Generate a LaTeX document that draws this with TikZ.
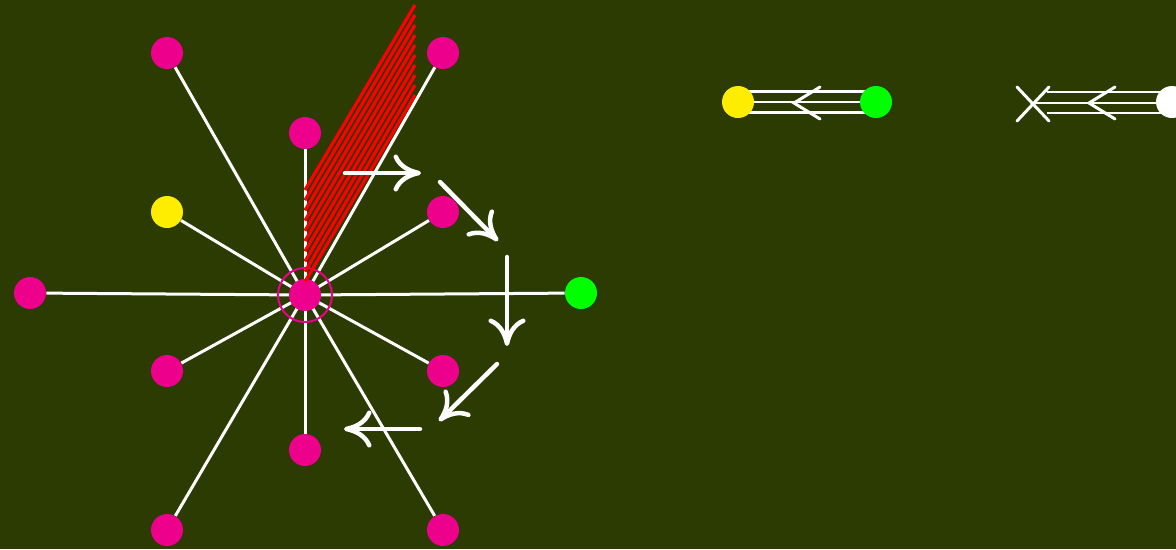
\documentclass[tikz,border=0pt]{standalone}
\usetikzlibrary{arrows.meta}
\definecolor{boardbg}{RGB}{44,59,2}
\definecolor{dotpink}{RGB}{236,0,140}
\definecolor{dotyellow}{RGB}{255,237,0}
\definecolor{dotgreen}{RGB}{0,255,0}
\definecolor{hatchred}{RGB}{255,0,0}
\pgfdeclarelayer{back}
\pgfdeclarelayer{wires}
\pgfsetlayers{back,wires,main}

\begin{document}
\begin{tikzpicture}[x=0.02cm, y=-0.02cm,
  disc/.style={circle, fill=#1, inner sep=0pt, minimum size=0.64cm},
  spoke/.style={white, line width=0.06cm},
  rail/.style={white, line width=0.05cm},
  turn/.style={white, line width=0.09cm, line cap=round, -{Computer Modern Rightarrow[length=0.55cm, width=0.74cm]}},
  barb/.style={white, line width=0.06cm, line cap=round},
  hatch/.style={hatchred, line width=0.065cm}
]
\useasboundingbox (0,0) rectangle (1176,549);
\begin{pgfonlayer}{back}
  \fill[boardbg] (0,0) rectangle (1176,549);
\end{pgfonlayer}

% ================= STAR =================
\node[disc=dotpink] (ctr) at (305,295) {};
\node[circle, draw=dotpink, line width=0.04cm, inner sep=0pt, minimum size=1.08cm] (ring) at (ctr) {};

\foreach \n/\x/\y/\c in {n1/167/53/dotpink, n2/443/53/dotpink, n3/305/133/dotpink,
    n4/167/212/dotyellow, n5/443/212/dotpink, n6/30/293/dotpink, n7/581/293/dotgreen,
    n8/167/371/dotpink, n9/443/371/dotpink, n10/305/450/dotpink,
    n11/167/530/dotpink, n12/443/530/dotpink}{
  \node[disc=\c] (\n) at (\x,\y) {};
}
\begin{pgfonlayer}{wires}
  \foreach \n in {n1,n2,n3,n4,n5,n6,n7,n8,n9,n10,n11,n12}
    \draw[spoke] (ctr.center) -- (\n);
\end{pgfonlayer}

% --- hatched wedge ---
\foreach \k in {0,...,9}
  \draw[hatch] (305,190+10.2*\k) -- (415,5+10*\k);

% --- turning arrows ---
\coordinate (t1) at (345,173);
\coordinate (t2) at (421,173);
\coordinate (t3) at (440,182);
\coordinate (t4) at (498,241);
\coordinate (t5) at (507,257);
\coordinate (t6) at (507,346);
\coordinate (t7) at (497,364);
\coordinate (t8) at (439,421);
\coordinate (t9) at (420,429);
\coordinate (t10) at (344,429);
\draw[turn] (t1) -- (t2);
\draw[turn] (t3) -- (t4);
\draw[turn] (t5) -- (t6);
\draw[turn] (t7) -- (t8);
\draw[turn] (t9) -- (t10);

% ================= RIGHT: two links =================
\node[disc=dotyellow] (ya) at (738,102) {};
\node[disc=dotgreen] (gb) at (876,102) {};
\node[disc=white] (wc) at (1172,102) {};
\coordinate (cut) at (1033,103);
\coordinate (cutu) at (1047,92);
\coordinate (cutd) at (1047,113);

\begin{pgfonlayer}{wires}
  \foreach \d in {-10.5,0,10.5}
    \draw[rail] ([yshift=\d*0.02cm]ya.center) -- ([yshift=\d*0.02cm]gb.center);
  \draw[rail] (cutu) -- (cutu -| wc.center);
  \draw[rail] (cut) -- (cut -| wc.center);
  \draw[rail] (cutd) -- (cutd -| wc.center);
\end{pgfonlayer}

\coordinate (m1) at (794,103);
\coordinate (m2) at (1089,103);
\draw[barb] ([shift={(26,-16)}]m1) -- (m1) -- ([shift={(26,16)}]m1);
\draw[barb] ([shift={(26,-16)}]m2) -- (m2) -- ([shift={(26,16)}]m2);
\draw[barb] ([shift={(-16,-16)}]cut) -- ([shift={(16,18)}]cut);
\draw[barb] ([shift={(-16,18)}]cut) -- ([shift={(16,-16)}]cut);
\end{tikzpicture}
\end{document}
